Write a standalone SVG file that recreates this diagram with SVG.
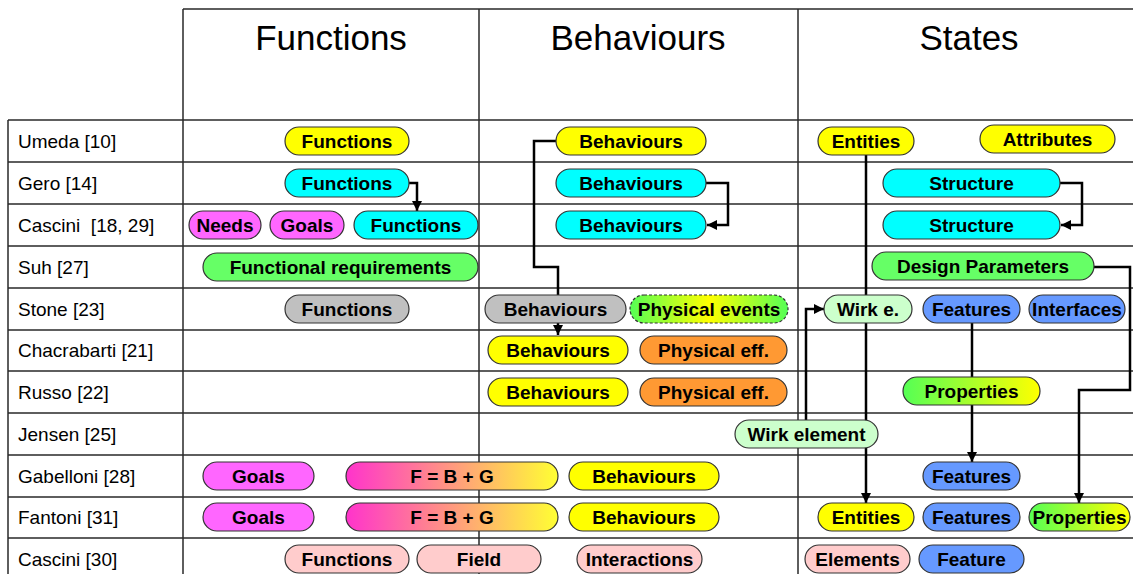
<svg xmlns="http://www.w3.org/2000/svg" width="1133" height="574" viewBox="0 0 1133 574">
<style>
.grid{stroke:#2a2a2a;stroke-width:1.5;fill:none}
.hdr{font-family:"Liberation Sans",Arial,sans-serif;font-size:35px;fill:#000}
.lbl{font-family:"Liberation Sans",Arial,sans-serif;font-size:19px;fill:#000}
.n rect{stroke:#333;stroke-width:1.2}
.n text{font-family:"Liberation Sans",Arial,sans-serif;font-size:19px;font-weight:bold;fill:#000;text-anchor:middle}
.conn{stroke:#000;stroke-width:2.5;fill:none;marker-end:url(#ah)}
.y{fill:#ffff00}.c{fill:#00ffff}.m{fill:#ff66ff}.g{fill:#66ff66}.gr{fill:#c0c0c0}
.o{fill:#ff9933}.lg{fill:#ccffcc}.b{fill:#6699ff}.p{fill:#ffcccc}
</style>
<defs>
<marker id="ah" markerUnits="userSpaceOnUse" markerWidth="12" markerHeight="12" refX="10" refY="6" orient="auto">
<path d="M0,1 L10,6 L0,11 z" fill="#000"/>
</marker>
<linearGradient id="fbg" x1="0" y1="0" x2="1" y2="0">
<stop offset="0" stop-color="#ff33cc"/><stop offset="1" stop-color="#ffff33"/>
</linearGradient>
<linearGradient id="gy" x1="0" y1="0" x2="1" y2="0">
<stop offset="0" stop-color="#55ff55"/><stop offset="1" stop-color="#ffff00"/>
</linearGradient>
<linearGradient id="gyg" x1="0" y1="0" x2="1" y2="0">
<stop offset="0" stop-color="#55ff55"/><stop offset="0.5" stop-color="#ffff00"/><stop offset="1" stop-color="#55ff55"/>
</linearGradient>
</defs>
<rect width="1133" height="574" fill="#fff"/>
<g id="grid">
<path class="grid" d="M183,9 H1133 M183,9 V574 M479,9 V574 M798,9 V574 M8,120 V574"/>
<path class="grid" d="M8,120 H1133 M8,162 H1133 M8,204 H1133 M8,246 H1133 M8,288 H1133 M8,330 H1133 M8,371 H1133 M8,413 H1133 M8,455 H1133 M8,497 H1133 M8,538 H1133"/>
<text class="hdr" x="331" y="50" text-anchor="middle">Functions</text>
<text class="hdr" x="638" y="50" text-anchor="middle">Behaviours</text>
<text class="hdr" x="969" y="50" text-anchor="middle">States</text>
<text class="lbl" x="18" y="148">Umeda [10]</text>
<text class="lbl" x="18" y="190">Gero [14]</text>
<text class="lbl" x="18" y="232">Cascini&#160; [18, 29]</text>
<text class="lbl" x="18" y="274">Suh [27]</text>
<text class="lbl" x="18" y="316">Stone [23]</text>
<text class="lbl" x="18" y="357">Chacrabarti [21]</text>
<text class="lbl" x="18" y="399">Russo [22]</text>
<text class="lbl" x="18" y="441">Jensen [25]</text>
<text class="lbl" x="18" y="483">Gabelloni [28]</text>
<text class="lbl" x="18" y="524">Fantoni [31]</text>
<text class="lbl" x="18" y="566">Cascini [30]</text>
</g>
<g id="connectors">
<path class="conn" d="M409,183 H417 V211"/>
<path class="conn" d="M706,183 H728 V225 H707"/>
<path class="conn" d="M1060,183 H1082 V225 H1061"/>
<path class="conn" d="M556,141 H534 V267 H558 V335"/>
<path class="conn" d="M866,154 V503"/>
<path class="conn" d="M1094,267 H1130 V390 H1079 V503"/>
<path class="conn" d="M972,323 V462"/>
<path class="conn" d="M806,420 V309 H824"/>
</g>
<g id="n1" class="n"><rect class="y" x="285" y="127" width="124" height="28" rx="14"/><text x="347" y="148">Functions</text></g>
<g id="n2" class="n"><rect class="y" x="556" y="127" width="150" height="28" rx="14"/><text x="631" y="148">Behaviours</text></g>
<g id="n3" class="n"><rect class="y" x="818" y="127" width="96" height="28" rx="14"/><text x="866" y="148">Entities</text></g>
<g id="n4" class="n"><rect class="y" x="980" y="125" width="135" height="28" rx="14"/><text x="1047.5" y="146">Attributes</text></g>
<g id="n5" class="n"><rect class="c" x="285" y="169" width="124" height="28" rx="14"/><text x="347" y="190">Functions</text></g>
<g id="n6" class="n"><rect class="c" x="556" y="169" width="150" height="28" rx="14"/><text x="631" y="190">Behaviours</text></g>
<g id="n7" class="n"><rect class="c" x="883" y="169" width="177" height="28" rx="14"/><text x="971.5" y="190">Structure</text></g>
<g id="n8" class="n"><rect class="m" x="189" y="211" width="72" height="28" rx="14"/><text x="225" y="232">Needs</text></g>
<g id="n9" class="n"><rect class="m" x="270" y="211" width="74" height="28" rx="14"/><text x="307" y="232">Goals</text></g>
<g id="n10" class="n"><rect class="c" x="354" y="211" width="124" height="28" rx="14"/><text x="416" y="232">Functions</text></g>
<g id="n11" class="n"><rect class="c" x="556" y="211" width="150" height="28" rx="14"/><text x="631" y="232">Behaviours</text></g>
<g id="n12" class="n"><rect class="c" x="883" y="211" width="177" height="28" rx="14"/><text x="971.5" y="232">Structure</text></g>
<g id="n13" class="n"><rect class="g" x="203" y="253" width="275" height="28" rx="14"/><text x="340.5" y="274">Functional requirements</text></g>
<g id="n14" class="n"><rect class="g" x="872" y="252" width="222" height="28" rx="14"/><text x="983" y="273">Design Parameters</text></g>
<g id="n15" class="n"><rect class="gr" x="285" y="295" width="124" height="28" rx="14"/><text x="347" y="316">Functions</text></g>
<g id="n16" class="n"><rect class="gr" x="485" y="295" width="141" height="28" rx="14"/><text x="555.5" y="316">Behaviours</text></g>
<g id="n17" class="n"><rect fill="url(#gyg)" stroke-dasharray="3,2" x="630" y="295" width="158" height="28" rx="14"/><text x="709" y="316">Physical events</text></g>
<g id="n18" class="n"><rect class="lg" x="824" y="295" width="88" height="28" rx="14"/><text x="868" y="316">Wirk e.</text></g>
<g id="n19" class="n"><rect class="b" x="923" y="295" width="97" height="28" rx="14"/><text x="971.5" y="316">Features</text></g>
<g id="n20" class="n"><rect class="b" x="1029" y="295" width="96" height="28" rx="14"/><text x="1077" y="316">Interfaces</text></g>
<g id="n21" class="n"><rect class="y" x="488" y="336" width="140" height="28" rx="14"/><text x="558" y="357">Behaviours</text></g>
<g id="n22" class="n"><rect class="o" x="640" y="336" width="147" height="28" rx="14"/><text x="713.5" y="357">Physical eff.</text></g>
<g id="n23" class="n"><rect class="y" x="488" y="378" width="140" height="28" rx="14"/><text x="558" y="399">Behaviours</text></g>
<g id="n24" class="n"><rect class="o" x="640" y="378" width="147" height="28" rx="14"/><text x="713.5" y="399">Physical eff.</text></g>
<g id="n25" class="n"><rect fill="url(#gy)" x="903" y="377" width="137" height="28" rx="14"/><text x="971.5" y="398">Properties</text></g>
<g id="n26" class="n"><rect class="lg" x="735" y="420" width="143" height="28" rx="14"/><text x="806.5" y="441">Wirk element</text></g>
<g id="n27" class="n"><rect class="m" x="203" y="462" width="111" height="28" rx="14"/><text x="258.5" y="483">Goals</text></g>
<g id="n28" class="n"><rect fill="url(#fbg)" x="346" y="462" width="212" height="28" rx="14"/><text x="452" y="483">F = B + G</text></g>
<g id="n29" class="n"><rect class="y" x="569" y="462" width="150" height="28" rx="14"/><text x="644" y="483">Behaviours</text></g>
<g id="n30" class="n"><rect class="b" x="923" y="462" width="97" height="28" rx="14"/><text x="971.5" y="483">Features</text></g>
<g id="n31" class="n"><rect class="m" x="203" y="503" width="111" height="28" rx="14"/><text x="258.5" y="524">Goals</text></g>
<g id="n32" class="n"><rect fill="url(#fbg)" x="346" y="503" width="212" height="28" rx="14"/><text x="452" y="524">F = B + G</text></g>
<g id="n33" class="n"><rect class="y" x="569" y="503" width="150" height="28" rx="14"/><text x="644" y="524">Behaviours</text></g>
<g id="n34" class="n"><rect class="y" x="818" y="503" width="96" height="28" rx="14"/><text x="866" y="524">Entities</text></g>
<g id="n35" class="n"><rect class="b" x="923" y="503" width="97" height="28" rx="14"/><text x="971.5" y="524">Features</text></g>
<g id="n36" class="n"><rect fill="url(#gy)" x="1029" y="503" width="101" height="28" rx="14"/><text x="1079.5" y="524">Properties</text></g>
<g id="n37" class="n"><rect class="p" x="285" y="545" width="124" height="28" rx="14"/><text x="347" y="566">Functions</text></g>
<g id="n38" class="n"><rect class="p" x="417" y="545" width="124" height="28" rx="14"/><text x="479" y="566">Field</text></g>
<g id="n39" class="n"><rect class="p" x="577" y="545" width="125" height="28" rx="14"/><text x="639.5" y="566">Interactions</text></g>
<g id="n40" class="n"><rect class="p" x="805" y="545" width="105" height="28" rx="14"/><text x="857.5" y="566">Elements</text></g>
<g id="n41" class="n"><rect class="b" x="919" y="545" width="105" height="28" rx="14"/><text x="971.5" y="566">Feature</text></g>
</svg>
